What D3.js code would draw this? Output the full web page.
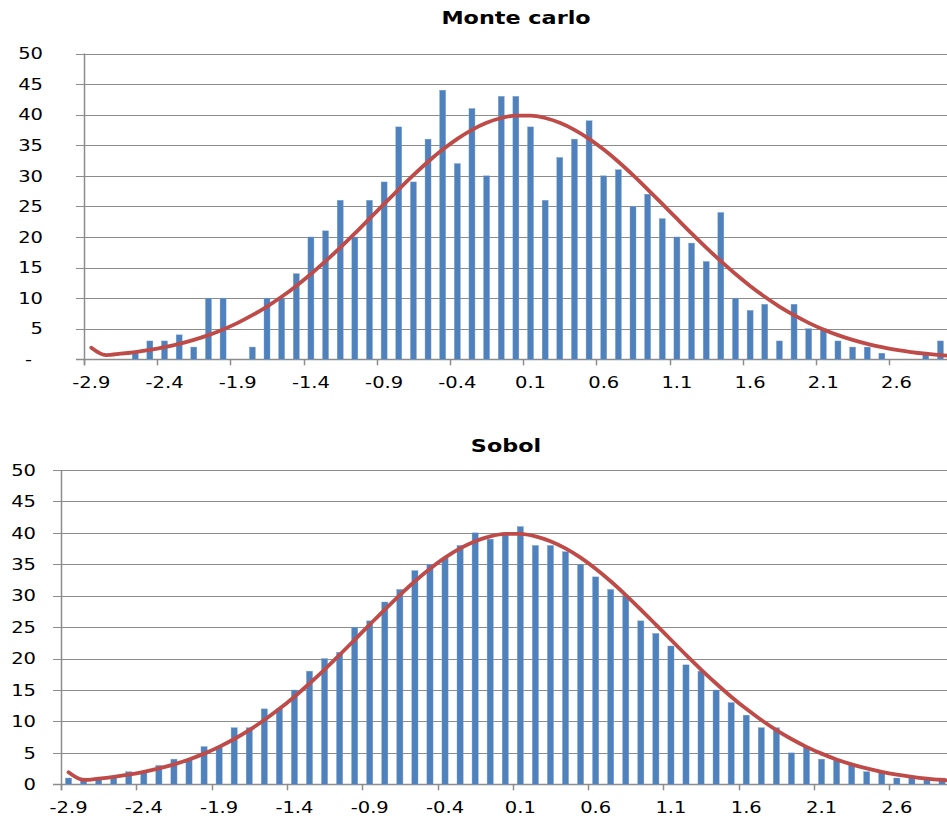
<!DOCTYPE html>
<html><head><meta charset="utf-8">
<script src="https://cdn.jsdelivr.net/npm/d3@7"></script>
<style>html,body{margin:0;padding:0;background:#fff;overflow:hidden}</style>
</head><body><svg id="chart" width="947" height="816"></svg>
<script>
const categories = ["-2.9","-2.8","-2.7","-2.6","-2.5","-2.4","-2.3","-2.2","-2.1","-2.0",
  "-1.9","-1.8","-1.7","-1.6","-1.5","-1.4","-1.3","-1.2","-1.1","-1.0",
  "-0.9","-0.8","-0.7","-0.6","-0.5","-0.4","-0.3","-0.2","-0.1","0.0",
  "0.1","0.2","0.3","0.4","0.5","0.6","0.7","0.8","0.9","1.0",
  "1.1","1.2","1.3","1.4","1.5","1.6","1.7","1.8","1.9","2.0",
  "2.1","2.2","2.3","2.4","2.5","2.6","2.7","2.8","2.9","3.0"];

const monteCarlo = [0,0,0,1,3,3,4,2,10,10,
  0,2,10,10,14,20,21,26,20,26,
  29,38,29,36,44,32,41,30,43,43,
  38,26,33,36,39,30,31,25,27,23,
  20,19,16,24,10,8,9,3,9,5,
  5,3,2,2,1,0,0,1,3,0];

const sobol = [1,1,1,1,2,2,3,4,4,6,
  6,9,9,12,12,15,18,20,21,25,
  26,29,31,34,35,36,38,40,39,40,
  41,38,38,37,35,33,31,30,26,24,
  22,19,18,15,13,11,9,9,5,6,
  4,4,3,2,2,1,1,1,1,1];

const normalFit = [1.9,0.69,0.91,1.19,1.54,1.98,2.52,3.17,3.95,4.88,
  5.96,7.21,8.63,10.23,12.00,13.94,16.04,18.26,20.59,22.99,
  25.40,27.80,30.11,32.30,34.29,36.05,37.52,38.67,39.45,39.84,
  39.84,39.45,38.67,37.52,36.05,34.29,32.30,30.11,27.80,25.40,
  22.99,20.59,18.26,16.04,13.94,12.00,10.23,8.63,7.21,5.96,
  4.88,3.95,3.17,2.52,1.98,1.54,1.19,0.91,0.69,0.51];

const xTickLabels = ["-2.9","-2.4","-1.9","-1.4","-0.9","-0.4","0.1","0.6","1.1","1.6","2.1","2.6"];
const yTicks = [0,5,10,15,20,25,30,35,40,45,50];

const svg = d3.select("#chart");
const W = 947;
const SX = 1.22;
const gridColor = "#8c8c8c";

const panels = [
  {title:"Monte carlo", values: monteCarlo, left:84, step:14.64, top:53.5, bottom:359.3,
   titleX:516, titleY:24, xLabelY:388, yLabelEnd:43, zeroLabel:"-", zeroEnd:32},
  {title:"Sobol", values: sobol, left:61, step:15.06, top:470, bottom:784.3,
   titleX:506, titleY:452, xLabelY:813, yLabelEnd:36, zeroLabel:"0", zeroEnd:36}
];

function addText(g, x, y, txt, opts) {
  g.append("text")
    .attr("transform", `translate(${x},${y}) scale(${opts.sx || SX},1)`)
    .attr("text-anchor", opts.anchor || "middle")
    .attr("dy", opts.dy || null)
    .attr("font-family", "DejaVu Sans, Verdana, sans-serif")
    .attr("font-size", opts.size || 16)
    .attr("font-weight", opts.weight || "normal")
    .attr("fill", "#000")
    .text(txt);
}

panels.forEach(p => {
  const g = svg.append("g");
  const x = d3.scaleBand().domain(categories)
    .range([p.left, p.left + p.step * categories.length]).padding(0);
  const y = d3.scaleLinear().domain([0, 50]).range([p.bottom, p.top]);
  const bw = x.bandwidth() * 0.41;

  // gridlines
  g.selectAll("line.grid").data(yTicks).enter().append("line")
    .attr("x1", p.left - 8).attr("x2", W)
    .attr("y1", d => Math.round(y(d)) + 0.5).attr("y2", d => Math.round(y(d)) + 0.5)
    .attr("stroke", gridColor).attr("stroke-width", d => d === 0 ? 1.5 : 1);

  // y axis line
  g.append("line")
    .attr("x1", p.left + 0.5).attr("x2", p.left + 0.5)
    .attr("y1", y(50)).attr("y2", y(0) + 6)
    .attr("stroke", gridColor).attr("stroke-width", 1.5);

  // x tick marks at category boundaries
  g.selectAll("line.xt").data(xTickLabels).enter().append("line")
    .attr("x1", d => Math.round(x(d)) + 0.5).attr("x2", d => Math.round(x(d)) + 0.5)
    .attr("y1", y(0)).attr("y2", y(0) + 6)
    .attr("stroke", gridColor).attr("stroke-width", 1.5);

  // y labels
  yTicks.forEach(t => {
    if (t === 0) addText(g, p.zeroEnd, y(t), p.zeroLabel, {anchor: "end", dy: "0.36em"});
    else addText(g, p.yLabelEnd, y(t), String(t), {anchor: "end", dy: "0.36em"});
  });

  // x labels
  xTickLabels.forEach(l => addText(g, x(l) + x.bandwidth() / 2, p.xLabelY, l, {}));

  // bars
  g.selectAll("rect.bar").data(categories.map((c, i) => ({c, v: p.values[i]})))
    .enter().append("rect")
    .attr("x", d => x(d.c) + x.bandwidth() / 2 - bw / 2)
    .attr("width", bw)
    .attr("y", d => y(d.v))
    .attr("height", d => y(0) - y(d.v))
    .attr("fill", "#4F81BD")
    .attr("stroke", "#7EA3D0").attr("stroke-width", 0.4);

  // fitted curve
  const line = d3.line()
    .x((d, i) => x(categories[i]) + x.bandwidth() / 2)
    .y(d => y(d))
    .curve(d3.curveMonotoneX);
  g.append("path").datum(normalFit)
    .attr("d", line)
    .attr("fill", "none")
    .attr("stroke", "#BE4B48")
    .attr("stroke-width", 3.8)
    .attr("stroke-linejoin", "round")
    .attr("stroke-linecap", "round");

  // title
  addText(g, p.titleX, p.titleY, p.title, {size: 18, weight: "bold", sx: 1.24});
});
</script>
</body></html>
